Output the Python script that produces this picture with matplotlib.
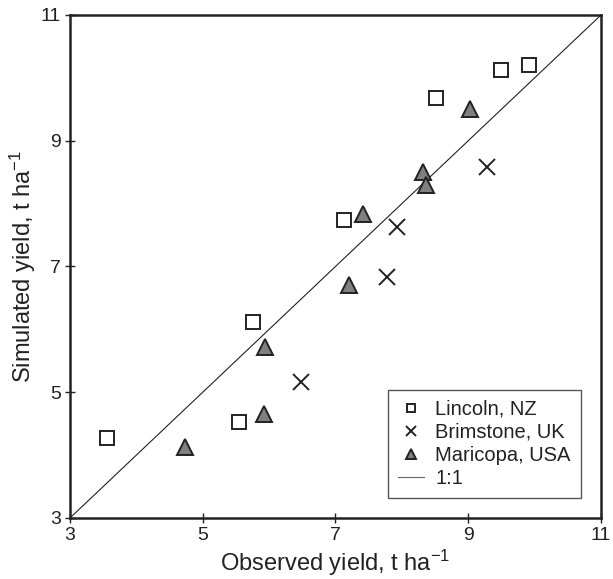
import matplotlib
matplotlib.use("Agg")
import matplotlib.pyplot as plt

plt.rcParams["font.family"] = ["Liberation Sans", "DejaVu Sans"]

lincoln_obs = [3.56, 5.54, 5.76, 7.13, 8.52, 9.50, 9.92]
lincoln_sim = [4.27, 4.53, 6.12, 7.74, 9.68, 10.12, 10.21]

brimstone_obs = [6.48, 7.78, 7.92, 9.29]
brimstone_sim = [5.16, 6.84, 7.63, 8.59]

maricopa_obs = [4.74, 5.92, 5.94, 7.21, 7.42, 8.32, 8.37, 9.03]
maricopa_sim = [4.13, 4.66, 5.72, 6.70, 7.84, 8.51, 8.29, 9.50]

ticks = [3, 5, 7, 9, 11]

fig = plt.figure(figsize=(6.13, 5.79), dpi=100)
ax = fig.add_axes([0.1142, 0.1054, 0.8662, 0.8687])

ax.plot(lincoln_obs, lincoln_sim, "s", ms=9.5, mfc="white", mec="#222222", mew=1.4,
        ls="none", label="Lincoln, NZ", zorder=3)
ax.plot(brimstone_obs, brimstone_sim, "x", ms=11, mec="#222222", mew=1.4,
        ls="none", label="Brimstone, UK", zorder=3)
ax.plot(maricopa_obs, maricopa_sim, "^", ms=11.5, mfc="#808080", mec="#222222", mew=1.4,
        ls="none", label="Maricopa, USA", zorder=3)
ax.plot([3, 11], [3, 11], color="#222222", lw=0.8, label="1:1", zorder=2)

ax.set_xlim(3, 11)
ax.set_ylim(3, 11)
ax.set_xticks(ticks)
ax.set_yticks(ticks)
ax.tick_params(direction="inout", length=7, width=1, labelsize=14, pad=3,
               colors="#222222")

for side in ["left", "bottom", "right", "top"]:
    ax.spines[side].set_linewidth(1.8)
    ax.spines[side].set_color("#222222")

ax.set_xlabel("Observed yield, t ha$\\mathregular{^{-1}}$", fontsize=17, labelpad=3,
              color="#222222")
ax.set_ylabel("Simulated yield, t ha$\\mathregular{^{-1}}$", fontsize=17, labelpad=2,
              color="#222222")

leg = ax.legend(loc="lower right", bbox_to_anchor=(0.962, 0.04), fontsize=14.5,
                fancybox=False, framealpha=1, edgecolor="#555555",
                handlelength=1.3, handletextpad=0.55, borderpad=0.5,
                labelspacing=0.2, markerscale=0.65, borderaxespad=0)
leg.get_frame().set_linewidth(1.0)
for txt in leg.get_texts():
    txt.set_color("#222222")
leg.get_lines()[3].set_color("#666666")

fig.savefig("out.png", dpi=100)
